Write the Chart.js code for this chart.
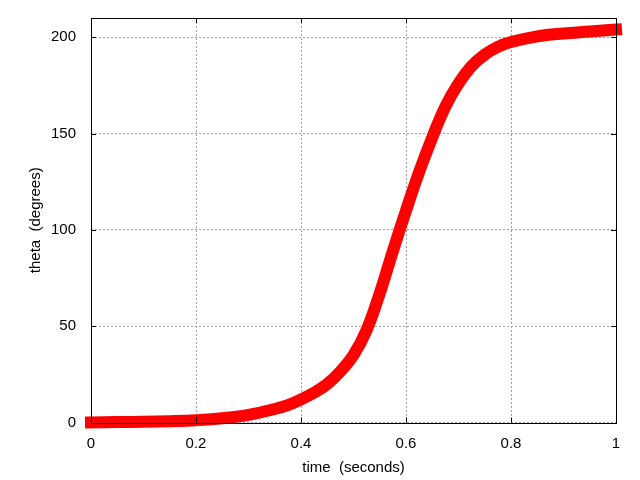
<!DOCTYPE html>
<html>
<head>
<meta charset="utf-8">
<script src="https://cdn.jsdelivr.net/npm/chart.js@4/dist/chart.umd.min.js"></script>
<style>
  html, body { margin: 0; padding: 0; background: #fff; }
  canvas { display: block; }
</style>
</head>
<body>
<canvas id="thetaChart" width="640" height="480"></canvas>
<script>
// time (s) vs theta (deg)
const TIME = [0, 0.05, 0.1, 0.15, 0.2, 0.25, 0.3, 0.35, 0.375, 0.4, 0.425, 0.45, 0.475, 0.5,
              0.525, 0.55, 0.575, 0.6, 0.625, 0.65, 0.675, 0.7, 0.725, 0.75, 0.775, 0.8,
              0.85, 0.9, 0.95, 1.0];
const THETA = [0, 0.2, 0.4, 0.7, 1.2, 2.2, 4, 7, 9, 12, 15.5, 20, 26.5, 35,
               48, 67, 89, 110, 130, 148, 164, 176, 185, 191, 195, 197.5,
               200.5, 202, 203, 204];

const X_TICKS = [0, 0.2, 0.4, 0.6, 0.8, 1];
const Y_TICKS = [0, 50, 100, 150, 200];

const FONT = 'Liberation Sans, Arial, sans-serif';

// gnuplot style frame: full border + short inward ticks drawn over the curve
const framePlugin = {
    id: 'frame',
    afterDatasetsDraw(chart) {
        const { ctx, chartArea: a, scales } = chart;
        ctx.save();
        ctx.strokeStyle = '#000';
        ctx.lineWidth = 1;
        ctx.beginPath();
        X_TICKS.forEach(v => {
            const x = Math.round(scales.x.getPixelForValue(v)) + 0.5;
            ctx.moveTo(x, a.bottom); ctx.lineTo(x, a.bottom - 5);
            ctx.moveTo(x, a.top); ctx.lineTo(x, a.top + 5);
        });
        Y_TICKS.forEach(v => {
            const y = Math.round(scales.y.getPixelForValue(v)) + 0.5;
            ctx.moveTo(a.left, y); ctx.lineTo(a.left + 5, y);
            ctx.moveTo(a.right, y); ctx.lineTo(a.right - 5, y);
        });
        ctx.stroke();
        ctx.strokeRect(Math.round(a.left) + 0.5, Math.round(a.top) + 0.5,
                       Math.round(a.right - a.left), Math.round(a.bottom - a.top));
        ctx.restore();
    }
};

const ctx = document.getElementById('thetaChart').getContext('2d');
new Chart(ctx, {
    type: 'line',
    data: {
        datasets: [{
            data: TIME.map((t, i) => ({ x: t, y: THETA[i] })),
            borderColor: '#ff0000',
            borderWidth: 12,
            borderCapStyle: 'square',
            borderJoinStyle: 'round',
            pointRadius: 0,
            tension: 0.4,
            fill: false,
            clip: false
        }]
    },
    options: {
        responsive: false,
        animation: false,
        layout: { padding: { left: 0, right: 24, top: 18, bottom: 0 } },
        plugins: { legend: { display: false }, tooltip: { enabled: false } },
        scales: {
            x: {
                type: 'linear',
                min: 0,
                max: 1,
                afterBuildTicks: s => { s.ticks = X_TICKS.map(v => ({ value: v })); },
                afterFit: s => { s.height = 57.5; s.paddingLeft = 0; s.paddingRight = 0; },
                grid: { color: '#a0a0a0', lineWidth: 1, drawTicks: false },
                border: { display: false, dash: [2, 2] },
                ticks: {
                    color: '#000',
                    padding: 12,
                    maxRotation: 0,
                    font: { family: FONT, size: 15 },
                    callback: v => String(Math.round(v * 10) / 10)
                },
                title: {
                    display: true,
                    text: 'time  (seconds)',
                    color: '#000',
                    font: { family: FONT, size: 15 },
                    padding: { top: 0, bottom: 3 }
                }
            },
            y: {
                min: 0,
                max: 210,
                afterBuildTicks: s => { s.ticks = Y_TICKS.map(v => ({ value: v })); },
                afterFit: s => { s.width = 91; s.paddingTop = 0; s.paddingBottom = 0; },
                grid: { color: '#a0a0a0', lineWidth: 1, drawTicks: false },
                border: { display: false, dash: [2, 2] },
                ticks: {
                    color: '#000',
                    padding: 15,
                    font: { family: FONT, size: 15 }
                },
                title: {
                    display: true,
                    text: 'theta  (degrees)',
                    color: '#000',
                    font: { family: FONT, size: 15 },
                    padding: { top: 27, bottom: 0 }
                }
            }
        }
    },
    plugins: [framePlugin]
});
</script>
</body>
</html>
